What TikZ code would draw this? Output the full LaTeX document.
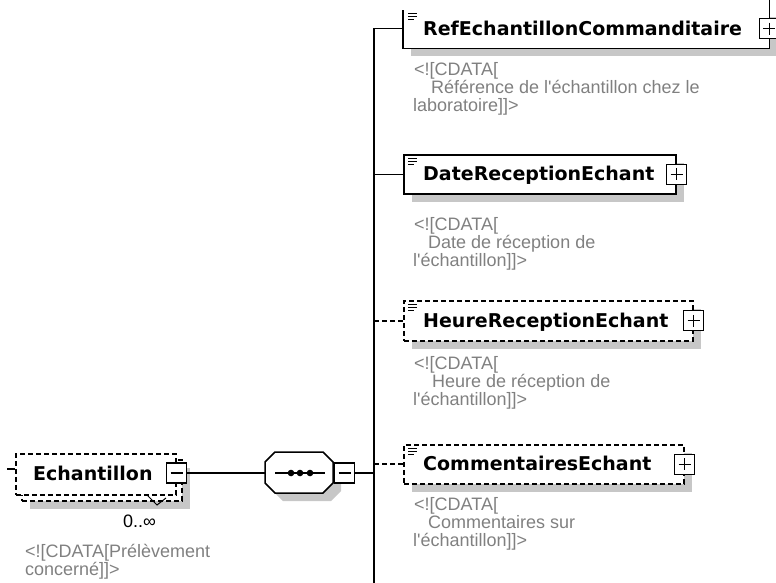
\documentclass[tikz,border=0pt]{standalone}
\usepackage{fontspec}
\newfontfamily\namefont{DejaVu Sans}
\newfontfamily\cmtfont{Liberation Sans}
\usetikzlibrary{shadows}
\begin{document}
\begin{tikzpicture}[x=1pt,y=-1pt,
  ln/.style={line width=1.5pt,black},
  dsh/.style={line width=1.6pt,black,dash pattern=on 5pt off 3pt},
  shad/.style={drop shadow={shadow xshift=8pt,shadow yshift=-8pt,fill=black!22,opacity=1}},
  elem/.style={draw,fill=white,line width=1.5pt,inner sep=0pt,anchor=north west,shad},
  delem/.style={elem,dash pattern=on 5pt off 3pt},
  nametext/.style={font=\namefont\bfseries\fontsize{19}{22}\selectfont,inner sep=0pt,anchor=base west},
  cmt/.style={font=\cmtfont\fontsize{18}{20}\selectfont,text=black!50,inner sep=0pt,anchor=base west},
  occ/.style={font=\cmtfont\fontsize{18}{20}\selectfont,text=black,inner sep=0pt,anchor=base west},
  pmbox/.style={draw,line width=1.3pt,fill=white,minimum width=20pt,minimum height=20pt,inner sep=0pt},
  minusbox/.style={pmbox,path picture={\draw[line width=1.3pt]
      ([xshift=4pt]path picture bounding box.west) -- ([xshift=-4pt]path picture bounding box.east);}},
  plusbox/.style={pmbox,path picture={\draw[line width=1.3pt]
      ([xshift=4pt]path picture bounding box.west) -- ([xshift=-4pt]path picture bounding box.east)
      ([yshift=-4pt]path picture bounding box.north) -- ([yshift=4pt]path picture bounding box.south);}},
  icon/.style={line width=1pt,black}
]
\clip (0,0) rectangle (776,582);

% ---------- Echantillon ----------
\node[delem,minimum width=160pt,minimum height=41pt] (echback) at (21,459) {};
\node[draw,fill=white,dash pattern=on 5pt off 3pt,line width=1.5pt,inner sep=0pt,anchor=north west,
      minimum width=160pt,minimum height=41pt] (ech) at (15,453) {};
\node[nametext] (echtext) at (33,480) {Echantillon};
\node[minusbox] (echminus) at (ech.east |- 0,473) {};
\coordinate (echstub) at (7,469);
\draw[ln] (echstub) -- (ech.west |- echstub);
\draw[line width=1pt] (147,495) -- (157,505) -- (166,498);
\node[occ] (echocc) at (123,527) {0..∞};
\node[cmt] (echc1) at (25,557) {<![CDATA[Prélèvement};
\node[cmt] (echc2) at (25,575) {concerné]]>};

% ---------- sequence compositor ----------
\fill[black!22] (283,460) -- (331,460) -- (341,470) -- (341,491) -- (331,501) -- (283,501) -- (273,491) -- (273,470) -- cycle;
\draw[ln,fill=white] (275,452) -- (323,452) -- (333,462) -- (333,483) -- (323,493) -- (275,493) -- (265,483) -- (265,462) -- cycle;
\coordinate (seqW) at (265,473);
\coordinate (seqE) at (333,473);
\node[minusbox,anchor=west] (seqminus) at ([xshift=1pt]seqE) {};
\coordinate (d1) at (291,473);
\coordinate (d2) at (300,473);
\coordinate (d3) at (310,473);
\draw[ln] (275,473) -- (325,473);
\foreach \d in {d1,d2,d3} \fill (\d) circle[radius=3.3pt];
\draw[ln] (echminus.east) -- (seqW);

% ---------- bus ----------
\coordinate (bustop) at (374,28);
\coordinate (busbot) at (374,590);
\draw[ln] (bustop) -- (busbot);
\draw[ln] (seqminus.east) -- (seqminus.east -| bustop);

% ---------- RefEchantillonCommanditaire ----------
\node[fill=white,inner sep=0pt,anchor=north west,minimum width=366pt,minimum height=39pt,shad] (ref) at (403,9) {};
\draw[ln] ([yshift=-1pt]ref.north west) -- (ref.south west) -- (ref.south east) -- ([yshift=12pt]ref.north east);
\draw[icon] (408,13) -- (417,13) (408,16) -- (417,16) (408,19) -- (414,19);
\node[nametext] (reftext) at (423,35.5) {RefEchantillonCommanditaire};
\node[plusbox] (refplus) at (ref.east) {};
\draw[ln] (ref.west -| bustop) -- (ref.west);
\node[cmt] (refc1) at (414,75) {<![CDATA[};
\node[cmt] (refc2) at (431,93) {Référence de l'échantillon chez le};
\node[cmt] (refc3) at (413,111) {laboratoire]]>};

% ---------- DateReceptionEchant ----------
\node[elem,minimum width=272pt,minimum height=39pt] (date) at (403,154) {};
\draw[icon] (408,158) -- (417,158) (408,161) -- (417,161) (408,164) -- (414,164);
\node[nametext] (datetext) at (423,180.5) {DateReceptionEchant};
\node[plusbox] (dateplus) at (date.east) {};
\draw[ln] (date.west -| bustop) -- (date.west);
\node[cmt] (datec1) at (414,230) {<![CDATA[};
\node[cmt] (datec2) at (428,248) {Date de réception de};
\node[cmt] (datec3) at (413,266) {l'échantillon]]>};

% ---------- HeureReceptionEchant ----------
\node[delem,minimum width=289pt,minimum height=40pt] (heure) at (403,300) {};
\draw[icon] (408,304) -- (417,304) (408,307) -- (417,307) (408,310) -- (414,310);
\node[nametext] (heuretext) at (423,327) {HeureReceptionEchant};
\node[plusbox] (heureplus) at (heure.east) {};
\draw[dsh] (heure.west -| bustop) -- (heure.west);
\node[cmt] (heurec1) at (414,369) {<![CDATA[};
\node[cmt] (heurec2) at (432,387) {Heure de réception de};
\node[cmt] (heurec3) at (413,405) {l'échantillon]]>};

% ---------- CommentairesEchant ----------
\node[delem,minimum width=280pt,minimum height=39pt] (comm) at (403,444) {};
\draw[icon] (408,448) -- (417,448) (408,451) -- (417,451) (408,454) -- (414,454);
\node[nametext] (commtext) at (423,470.5) {CommentairesEchant};
\node[plusbox] (commplus) at (comm.east) {};
\draw[dsh] (comm.west -| bustop) -- (comm.west);
\node[cmt] (commc1) at (414,510) {<![CDATA[};
\node[cmt] (commc2) at (428,528) {Commentaires sur};
\node[cmt] (commc3) at (413,546) {l'échantillon]]>};
\end{tikzpicture}
\end{document}
